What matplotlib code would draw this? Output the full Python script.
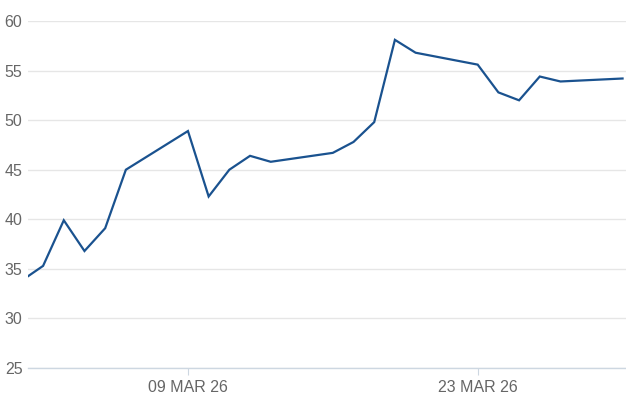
import datetime as dt

import matplotlib
matplotlib.use("Agg")
import matplotlib.dates as mdates
import matplotlib.pyplot as plt

# trading days (first point sits just off the left edge)
dates = [
    "2026-02-27", "2026-03-02", "2026-03-03", "2026-03-04", "2026-03-05", "2026-03-06",
    "2026-03-09", "2026-03-10", "2026-03-11", "2026-03-12", "2026-03-13",
    "2026-03-16", "2026-03-17", "2026-03-18", "2026-03-19", "2026-03-20",
    "2026-03-23", "2026-03-24", "2026-03-25", "2026-03-26", "2026-03-27",
    "2026-03-30",
]
values = [
    31.0, 35.3, 39.9, 36.8, 39.1, 45.0,
    48.9, 42.3, 45.0, 46.4, 45.8,
    46.7, 47.8, 49.8, 58.1, 56.8,
    55.6, 52.8, 52.0, 54.4, 53.9,
    54.2,
]
tick_dates = ["2026-03-09", "2026-03-23"]
tick_labels = ["09 MAR 26", "23 MAR 26"]
y_ticks = [25, 30, 35, 40, 45, 50, 55, 60]

LINE = "#1a528f"
GRID = "#e6e6e6"
AXIS = "#cdd7e1"
TEXT = "#666666"

plt.rcParams["font.family"] = ["Liberation Sans", "DejaVu Sans"]

x = [dt.datetime.fromisoformat(d) for d in dates]
xt = [dt.datetime.fromisoformat(d) for d in tick_dates]

fig = plt.figure(figsize=(6.26, 4.17), dpi=100)
ax = fig.add_axes([28 / 626, 1 - 368 / 417, 1 - 28 / 626, (368 - 21) / 417])

ax.plot(x, values, color=LINE, linewidth=1.6, solid_joinstyle="miter", zorder=3)

ax.set_ylim(25, 60)
ax.set_yticks(y_ticks)
ax.set_xlim(mdates.date2num(dt.datetime(2026, 3, 1, 6, 30)),
            mdates.date2num(dt.datetime(2026, 3, 30, 4, 0)))
ax.set_xticks(xt)
ax.set_xticklabels(tick_labels)

ax.grid(axis="y", color=GRID, linewidth=1.0)
ax.set_axisbelow(True)
for side in ("left", "right", "top"):
    ax.spines[side].set_visible(False)
ax.spines["bottom"].set_color(AXIS)
ax.spines["bottom"].set_linewidth(1.0)

ax.tick_params(axis="y", length=0, pad=4, labelsize=11.5, labelcolor=TEXT)
ax.tick_params(axis="x", length=5, width=0.8, color=AXIS, pad=4, labelsize=11.5, labelcolor=TEXT)

fig.savefig("out.png", dpi=100)
